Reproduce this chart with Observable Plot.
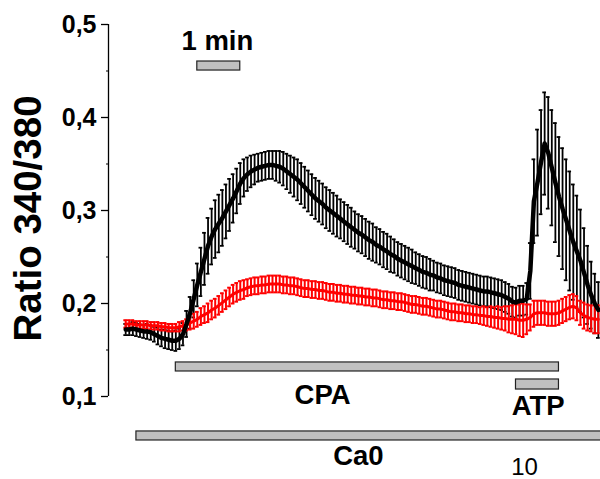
<!DOCTYPE html>
<html><head><meta charset="utf-8">
<script src="https://cdn.jsdelivr.net/npm/d3@7"></script>
<script src="https://cdn.jsdelivr.net/npm/@observablehq/plot@0.6"></script>
<style>
html,body{margin:0;padding:0;background:#fff;}
#chart{width:600px;height:479px;overflow:hidden;}
</style></head><body><div id="chart"></div>
<script>
// ---- data ----
const sampleIntervalSec = 5;
const blackMean = [
0.172,0.172,0.173,0.172,0.171,0.170,0.170,0.169,0.167,0.165,
0.163,0.162,0.161,0.160,0.160,0.162,0.167,0.178,0.190,0.205,
0.220,0.234,0.248,0.262,0.272,0.280,0.286,0.292,0.299,0.306,
0.313,0.321,0.329,0.335,0.339,0.342,0.344,0.346,0.347,0.348,
0.349,0.349,0.348,0.347,0.345,0.342,0.339,0.336,0.333,0.329,
0.325,0.321,0.317,0.313,0.310,0.307,0.303,0.300,0.297,0.294,
0.291,0.288,0.285,0.282,0.279,0.276,0.274,0.271,0.268,0.266,
0.263,0.261,0.258,0.256,0.253,0.251,0.248,0.246,0.244,0.242,
0.240,0.238,0.236,0.234,0.233,0.231,0.230,0.228,0.227,0.225,
0.224,0.223,0.222,0.220,0.219,0.218,0.217,0.216,0.215,0.214,
0.213,0.213,0.212,0.211,0.210,0.209,0.207,0.205,0.202,0.201,
0.203,0.203,0.205,0.235,0.310,0.330,0.352,0.372,0.362,0.346,
0.330,0.315,0.302,0.290,0.278,0.266,0.256,0.246,0.233,0.220,
0.209,0.200,0.193];
const blackSE = [
0.006,0.006,0.007,0.007,0.007,0.007,0.008,0.008,0.008,0.009,
0.009,0.010,0.010,0.010,0.011,0.011,0.012,0.014,0.017,0.020,
0.023,0.026,0.028,0.030,0.030,0.031,0.031,0.030,0.029,0.028,
0.026,0.024,0.022,0.020,0.018,0.017,0.016,0.015,0.015,0.015,
0.015,0.015,0.016,0.017,0.018,0.019,0.020,0.021,0.022,0.022,
0.022,0.022,0.022,0.022,0.022,0.022,0.022,0.022,0.022,0.022,
0.021,0.021,0.021,0.021,0.020,0.020,0.020,0.020,0.020,0.020,
0.019,0.019,0.019,0.019,0.019,0.018,0.018,0.018,0.018,0.018,
0.018,0.017,0.017,0.017,0.017,0.017,0.016,0.016,0.016,0.016,
0.016,0.016,0.016,0.016,0.016,0.016,0.016,0.016,0.016,0.016,
0.016,0.016,0.016,0.016,0.016,0.016,0.016,0.016,0.016,0.016,
0.016,0.016,0.017,0.030,0.045,0.057,0.056,0.055,0.060,0.062,
0.064,0.064,0.065,0.065,0.064,0.062,0.060,0.055,0.048,0.042,
0.036,0.032,0.030];
const redMean = [
0.178,0.178,0.178,0.177,0.177,0.177,0.177,0.176,0.176,0.176,
0.175,0.175,0.174,0.174,0.174,0.175,0.176,0.177,0.179,0.181,
0.183,0.186,0.188,0.190,0.193,0.195,0.198,0.201,0.204,0.207,
0.210,0.212,0.214,0.215,0.217,0.218,0.219,0.219,0.220,0.220,
0.221,0.221,0.221,0.221,0.220,0.220,0.219,0.219,0.218,0.217,
0.216,0.216,0.215,0.215,0.214,0.214,0.213,0.212,0.212,0.211,
0.211,0.210,0.210,0.209,0.209,0.208,0.208,0.207,0.207,0.206,
0.206,0.205,0.204,0.204,0.203,0.203,0.202,0.202,0.201,0.200,
0.199,0.199,0.198,0.197,0.197,0.196,0.195,0.194,0.194,0.193,
0.192,0.191,0.191,0.190,0.190,0.189,0.189,0.188,0.188,0.187,
0.187,0.186,0.186,0.185,0.185,0.184,0.184,0.183,0.183,0.183,
0.182,0.182,0.183,0.185,0.189,0.190,0.190,0.190,0.189,0.189,
0.189,0.190,0.192,0.194,0.196,0.197,0.195,0.190,0.187,0.185,
0.184,0.183,0.183];
const redSE = [
0.004,0.004,0.004,0.004,0.004,0.004,0.004,0.004,0.004,0.004,
0.004,0.004,0.004,0.004,0.004,0.005,0.005,0.006,0.007,0.008,
0.008,0.009,0.009,0.010,0.010,0.010,0.010,0.010,0.010,0.010,
0.010,0.010,0.010,0.010,0.009,0.009,0.009,0.009,0.009,0.009,
0.009,0.009,0.009,0.009,0.009,0.009,0.009,0.009,0.009,0.009,
0.009,0.009,0.009,0.009,0.009,0.009,0.009,0.009,0.009,0.009,
0.009,0.009,0.009,0.009,0.009,0.009,0.009,0.009,0.009,0.009,
0.009,0.009,0.009,0.009,0.009,0.009,0.009,0.009,0.009,0.009,
0.009,0.009,0.009,0.009,0.009,0.009,0.009,0.009,0.009,0.009,
0.009,0.009,0.009,0.009,0.009,0.009,0.009,0.009,0.009,0.009,
0.010,0.010,0.011,0.011,0.012,0.012,0.013,0.014,0.015,0.016,
0.017,0.018,0.016,0.014,0.014,0.013,0.013,0.013,0.013,0.013,
0.013,0.013,0.013,0.013,0.013,0.013,0.013,0.013,0.014,0.014,
0.014,0.015,0.015];
const yTicks = [0.1, 0.2, 0.3, 0.4, 0.5];
const yMinorTicks = [0.15, 0.25, 0.35, 0.45];
const treatmentNames = ["1 min", "CPA", "ATP", "Ca0"];
const treatmentStartSec = [100, 70, 545, 15];
const treatmentEndSec = [160, 605, 605, 665];
const yLabel = "Ratio 340/380";
const cornerNote = "10";

// ---- layout ----
const FONT = "'Liberation Sans', Arial, Helvetica, sans-serif";
const xDomain = [-24, 663];
const capHalf = 2.6;
const barLevels = [[0.4505, 0.4602], [0.1269, 0.1366], [0.1075, 0.1183], [0.0527, 0.0624]];
const labelPlace = [[128, 0.4817], [275, 0.1011], [576, 0.0892], [325, 0.0355]];

const toRows = (m, se) => m.map((v, i) => ({t: i * sampleIntervalSec, m: v, lo: v - se[i], hi: v + se[i]}));
const black = toRows(blackMean, blackSE);
const red = toRows(redMean, redSE);
const bars = treatmentNames.map((name, i) => ({
  name, x1: treatmentStartSec[i], x2: treatmentEndSec[i],
  y1: barLevels[i][0], y2: barLevels[i][1], lx: labelPlace[i][0], ly: labelPlace[i][1]
}));
const fmt = d => d.toFixed(1).replace(".", ",");

function errorMarks(rows, color, w) {
  return [
    Plot.ruleX(rows, {x: "t", y1: "lo", y2: "hi", stroke: color, strokeWidth: w}),
    Plot.ruleY(rows, {y: "hi", x1: d => d.t - capHalf, x2: d => d.t + capHalf, stroke: color, strokeWidth: w}),
    Plot.ruleY(rows, {y: "lo", x1: d => d.t - capHalf, x2: d => d.t + capHalf, stroke: color, strokeWidth: w})
  ];
}

const chart = Plot.plot({
  width: 600, height: 479,
  marginLeft: 108, marginRight: 0, marginTop: 24, marginBottom: 83,
  x: {domain: xDomain, axis: null},
  y: {domain: [yTicks[0], yTicks[yTicks.length - 1]], axis: null},
  style: {fontFamily: FONT, background: "#fff", color: "#000", overflow: "visible"},
  marks: [
    Plot.ruleX([xDomain[0]], {x: d => d, y1: yTicks[0], y2: yTicks[yTicks.length - 1], stroke: "#000", strokeWidth: 1.3}),
    Plot.axisY(yTicks, {tickSize: 7, tickPadding: 5, tickFormat: fmt, fontSize: 25, fontWeight: "bold", label: null, strokeWidth: 1.3}),
    Plot.axisY(yMinorTicks, {tickSize: 2, tickFormat: () => "", label: null, strokeWidth: 1}),
    Plot.text([yLabel], {frameAnchor: "left", text: d => d, rotate: -90, textAnchor: "middle", dx: -80, dy: 8, fontSize: 38.5, fontWeight: "bold", fill: "#000"}),
    Plot.rect(bars, {x1: "x1", x2: "x2", y1: "y1", y2: "y2", fill: "#c0c0c0", stroke: "#222", strokeWidth: 1.2}),
    Plot.text(bars, {x: "lx", y: "ly", text: "name", fontSize: 27.5, fontWeight: "bold", fill: "#000"}),
    ...errorMarks(black, "#000", 1.8),
    ...errorMarks(red, "#ff0000", 2),
    Plot.line(red, {x: "t", y: "m", stroke: "#ff0000", strokeWidth: 3}),
    Plot.line(black, {x: "t", y: "m", stroke: "#000", strokeWidth: 4.5}),
    Plot.text([cornerNote], {x: 557, y: 0.0236, text: d => d, fontSize: 24, fill: "#000"})
  ]
});
document.getElementById("chart").appendChild(chart);
</script>
</body></html>
